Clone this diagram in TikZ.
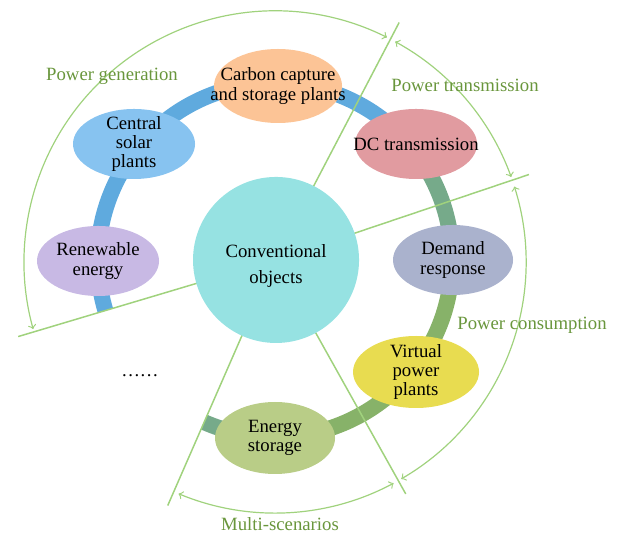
\documentclass[tikz,border=0pt]{standalone}
\usepackage{fontspec}
\setmainfont{Liberation Serif}
\usetikzlibrary{fadings}

\definecolor{ringblue}{RGB}{95,170,222}
\definecolor{ringteal}{RGB}{118,170,138}
\definecolor{ringgreen}{RGB}{135,178,105}
\definecolor{divgreen}{RGB}{160,210,125}
\definecolor{taggreen}{RGB}{105,150,60}
\definecolor{cOrange}{RGB}{252,196,150}
\definecolor{cBlue}{RGB}{135,195,240}
\definecolor{cLilac}{RGB}{200,185,228}
\definecolor{cRose}{RGB}{225,155,160}
\definecolor{cSlate}{RGB}{170,178,205}
\definecolor{cYellow}{RGB}{232,220,80}
\definecolor{cOlive}{RGB}{185,205,135}
\definecolor{cCyan}{RGB}{150,226,226}

% solid inside, only a thin soft rim
\pgfdeclareradialshading{softrim}{\pgfpointorigin}{color(0bp)=(pgftransparent!0); color(41bp)=(pgftransparent!0); color(50bp)=(pgftransparent!100)}
\pgfdeclarefading{soft rim}{\pgfuseshading{softrim}}

\tikzset{
  blob/.style={path fading=soft rim},
  lbl/.style={align=center,inner sep=0pt,font=\fontsize{9.4}{9.6}\selectfont},
  tag/.style={text=taggreen,inner sep=0pt,font=\fontsize{9.4}{9.6}\selectfont},
  sector/.style={divgreen,line width=.75bp},
  span/.style={divgreen,line width=.6bp,<->}
}

\begin{document}
\begin{tikzpicture}[x=.5bp,y=.5bp]
\useasboundingbox (-275,-276) rectangle (343,260);
% the ring, cut open at the lower left
\foreach \a/\b/\c in {196.6/39/ringblue,39/0/ringteal,0/-90/ringgreen,-90/-113.6/ringteal}
  \draw[\c,line width=8bp] (\a:177) arc (\a:\b:177);
% sector borders
\foreach \a in {62.4,18.6,-60.8,-113.6,196.6}
  \draw[sector] (\a:78) -- (\a:268);
% objects round the ring
\foreach \p/\rx/\ry/\c/\n/\t in {
  {(3,174)}/64/37/cOrange/ccs/{Carbon capture\\and storage plants},
  {(-141,116)}/61/35/cBlue/solar/{Central\\solar\\plants},
  {(-177,-1)}/61/35/cLilac/renew/{Renewable\\energy},
  {(141,116)}/61/35/cRose/dc/{DC transmission},
  {(178,0)}/60/35/cSlate/demand/{Demand\\response},
  {(141,-112)}/63/36/cYellow/vpp/{Virtual\\power\\plants},
  {(0,-178)}/60/36/cOlive/store/{Energy\\storage}}{
  \fill[\c,blob] \p ellipse[x radius=\rx,y radius=\ry];
  \node[lbl] (\n) at \p {\t};}
\fill[cCyan,blob] (1,0) circle (83);
\node[lbl] (conv) at (1,-6) {Conventional\\[3bp]objects};
\node[lbl,anchor=base,font=\fontsize{9.4}{9.6}\selectfont\addfontfeatures{LetterSpace=8}] (more) at (-135,-117) {......};
% spans of the four groups
\begin{scope}[shift={(0,-2)}]
\foreach \a/\b in {63.5/195.5,61.4/19.8,17.5/-59.8,-61.8/-112.6}
  \draw[span] (\a:251) arc (\a:\b:251);
\end{scope}
\node[tag] (gen) at (-163,184) {Power generation};
\node[tag] (trans) at (190,175) {Power transmission};
\node[tag] (cons) at (257,-65) {Power consumption};
\node[tag] (multi) at (5,-264) {Multi-scenarios};
\end{tikzpicture}
\end{document}
